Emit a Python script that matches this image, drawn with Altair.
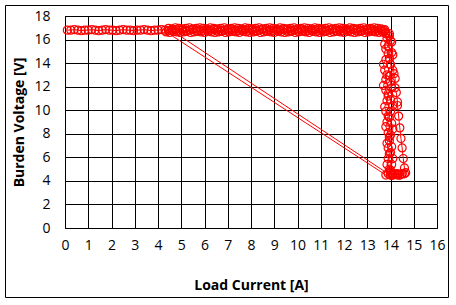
import altair as alt
import pandas as pd

# Sweep 1: flat part at ~16.8 V
h1_x = [0.10,0.25,0.40,0.55,0.70,0.85,1.00,1.15,1.30,1.45,
        1.60,1.75,1.90,2.05,2.20,2.35,2.50,2.65,2.80,2.95,
        3.10,3.25,3.40,3.55,3.70,3.85,4.00,4.15,4.30,4.45,
        4.60,4.75,4.90,5.05,5.20,5.35,5.50,5.65,5.80,5.95,
        6.10,6.25,6.40,6.55,6.70,6.85,7.00,7.15,7.30,7.45,
        7.60,7.75,7.90,8.05,8.20,8.35,8.50,8.65,8.80,8.95,
        9.10,9.25,9.40,9.55,9.70,9.85,10.00,10.15,10.30,10.45,
        10.60,10.75,10.90,11.05,11.20,11.35,11.50,11.65,11.80,11.95,
        12.10,12.25,12.40,12.55,12.70,12.85,13.00,13.15,13.30,13.45,
        13.60,13.75]
h1_y = [16.8,16.8,16.85,16.8,16.75,16.8,16.8,16.85,16.8,16.75,
        16.8,16.85,16.8,16.8,16.75,16.8,16.85,16.8,16.8,16.75,
        16.8,16.8,16.85,16.8,16.75,16.8,16.8,16.85,16.8,16.75,
        16.8,16.85,16.8,16.8,16.75,16.8,16.85,16.8,16.8,16.75,
        16.8,16.8,16.85,16.8,16.75,16.8,16.8,16.85,16.8,16.75,
        16.8,16.85,16.8,16.8,16.75,16.8,16.85,16.8,16.8,16.75,
        16.8,16.8,16.85,16.8,16.75,16.8,16.8,16.85,16.8,16.75,
        16.8,16.85,16.8,16.8,16.75,16.8,16.85,16.8,16.8,16.75,
        16.8,16.8,16.85,16.8,16.75,16.8,16.8,16.85,16.8,16.75,
        16.8,16.75]
d1_x = [13.8,13.85,13.75,13.8,13.9,13.8,13.7,13.75,13.85,13.8,13.7,13.8,13.9,13.85,
        13.75,13.8,13.9,13.85,13.8,13.9,13.95,13.85,13.9,13.95,13.9,13.85,13.95,14.0]
d1_y = [16.5,16.1,15.6,15.2,14.8,14.3,13.9,13.4,13.0,12.6,12.1,11.7,11.2,10.8,
        10.3,9.9,9.5,9.0,8.6,8.1,7.7,7.2,6.8,6.3,5.9,5.4,5.0,4.7]
b1_x = [14.1,14.3,14.5,14.6,14.4,14.2,14.0,13.8]
b1_y = [4.6,4.5,4.6,4.6,4.5,4.6,4.5,4.5]

# Sweep 2
h2_x = [4.35,4.50,4.65,4.80,4.95,5.10,5.25,5.40,5.55,5.70,
        5.85,6.00,6.15,6.30,6.45,6.60,6.75,6.90,7.05,7.20,
        7.35,7.50,7.65,7.80,7.95,8.10,8.25,8.40,8.55,8.70,
        8.85,9.00,9.15,9.30,9.45,9.60,9.75,9.90,10.05,10.20,
        10.35,10.50,10.65,10.80,10.95,11.10,11.25,11.40,11.55,11.70,
        11.85,12.00,12.15,12.30,12.45,12.60,12.75,12.90,13.05,13.20,
        13.35,13.50,13.65,13.80]
h2_y = [16.65,16.6,16.7,16.65,16.6,16.65,16.7,16.6,16.65,16.7,
        16.65,16.6,16.7,16.65,16.6,16.65,16.7,16.6,16.65,16.7,
        16.65,16.6,16.7,16.65,16.6,16.65,16.7,16.6,16.65,16.7,
        16.65,16.6,16.7,16.65,16.6,16.65,16.7,16.6,16.65,16.7,
        16.65,16.6,16.7,16.65,16.6,16.65,16.7,16.6,16.65,16.7,
        16.65,16.6,16.7,16.65,16.6,16.65,16.7,16.6,16.65,16.7,
        16.65,16.6,16.65,16.6]
d2_x = [13.95,14.0,13.9,14.05,13.95,14.0,14.1,13.95,14.0,14.05,13.9,14.0,14.1,14.0,13.95,
        14.05,14.1,14.0,13.95,14.05,14.0,14.1,14.05,14.0]
d2_y = [16.3,15.9,15.4,14.9,14.4,13.9,13.4,12.9,12.4,11.9,11.4,10.9,10.4,9.9,9.4,
        8.9,8.4,7.9,7.4,6.9,6.4,5.9,5.4,4.9]
b2_x = [14.0,14.2,14.4,14.3,14.1,13.9]
b2_y = [4.5,4.6,4.5,4.6,4.5,4.6]

# Sweep 3
h3_x = [4.45,4.60,4.75,4.90,5.05,5.20,5.35,5.50,5.65,5.80,
        5.95,6.10,6.25,6.40,6.55,6.70,6.85,7.00,7.15,7.30,
        7.45,7.60,7.75,7.90,8.05,8.20,8.35,8.50,8.65,8.80,
        8.95,9.10,9.25,9.40,9.55,9.70,9.85,10.00,10.15,10.30,
        10.45,10.60,10.75,10.90,11.05,11.20,11.35,11.50,11.65,11.80,
        11.95,12.10,12.25,12.40,12.55,12.70,12.85,13.00,13.15,13.30,
        13.45,13.60,13.75]
h3_y = [16.95,16.9,17.0,16.95,16.9,16.95,17.0,16.9,16.95,17.0,
        16.95,16.9,17.0,16.95,16.9,16.95,17.0,16.9,16.95,17.0,
        16.95,16.9,17.0,16.95,16.9,16.95,17.0,16.9,16.95,17.0,
        16.95,16.9,17.0,16.95,16.9,16.95,17.0,16.9,16.95,17.0,
        16.95,16.9,17.0,16.95,16.9,16.95,17.0,16.9,16.95,17.0,
        16.95,16.9,17.0,16.95,16.9,16.95,17.0,16.9,16.95,17.0,
        16.95,16.9,16.85]
d3_x = [13.95,14.05,14.1,14.15,14.2,14.2,14.25,14.3,14.3,14.35,14.4,14.45,14.5,14.55,14.6]
d3_y = [16.5,15.8,14.7,13.1,12.7,11.9,11.5,10.7,10.4,9.5,8.5,7.6,6.8,5.9,5.1]
b3_x = [14.65,14.5,14.3,14.1]
b3_y = [4.7,4.6,4.6,4.5]

segments = [(h1_x, h1_y), (d1_x, d1_y), (b1_x, b1_y),
            (h2_x, h2_y), (d2_x, d2_y), (b2_x, b2_y),
            (h3_x, h3_y), (d3_x, d3_y), (b3_x, b3_y)]
rows = []
for xs, ys in segments:
    for xv, yv in zip(xs, ys):
        rows.append({"i": len(rows), "current": xv, "voltage": yv})
df = pd.DataFrame(rows)

x_ticks = [0, 1, 2, 3, 4, 5, 6, 7, 8, 9, 10, 11, 12, 13, 14, 15, 16]
y_ticks = [0, 2, 4, 6, 8, 10, 12, 14, 16, 18]
FONT = "Open Sans"

x_enc = alt.X("current:Q", scale=alt.Scale(domain=[0, 16], nice=False),
              axis=alt.Axis(values=x_ticks, tickCount=17, title="Load Current [A]", grid=True,
                            gridColor="black", gridWidth=1, gridOpacity=1,
                            ticks=False, tickSize=0, domain=False,
                            labelOverlap=False,
                            labelFont=FONT, labelFontSize=14, labelColor="black",
                            labelPadding=10, labelFlush=False,
                            titleFont=FONT, titleFontSize=14, titleFontWeight="bold",
                            titleColor="black", titleX=186, titleY=57,
                            titleBaseline="middle", titleAlign="center"))
y_enc = alt.Y("voltage:Q", scale=alt.Scale(domain=[0, 18], nice=False),
              axis=alt.Axis(values=y_ticks, tickCount=10, title="Burden Voltage [V]", grid=True,
                            gridColor="black", gridWidth=1, gridOpacity=1,
                            ticks=False, tickSize=0, domain=False,
                            labelOverlap=False,
                            labelFont=FONT, labelFontSize=14, labelColor="black",
                            labelPadding=15, labelFlush=False,
                            titleFont=FONT, titleFontSize=14, titleFontWeight="bold",
                            titleColor="black", titleX=-46, titleY=106,
                            titleBaseline="middle", titleAlign="center"))

base = alt.Chart(df).encode(x=x_enc, y=y_enc)
line = base.mark_line(color="#ff0000", strokeWidth=1).encode(order="i:Q")
pts = base.mark_point(shape="circle", filled=False, color="#ff0000", size=65,
                      strokeWidth=1.2, opacity=1)

border = alt.Chart(pd.DataFrame({"a": [0]})).mark_rect(
    fill=None, stroke="black", strokeWidth=1).encode(
    x=alt.value(-59.5), x2=alt.value(383.5), y=alt.value(-10.5), y2=alt.value(281.5))

chart = alt.layer(line, pts, border).properties(
    width=372, height=212,
    autosize=alt.AutoSizeParams(type="none"),
    padding={"left": 65, "top": 16, "right": 19, "bottom": 77},
    background="white",
).configure_view(stroke="black", strokeWidth=1)

chart.save("out.html", embed_options={"renderer": "svg", "actions": False})
